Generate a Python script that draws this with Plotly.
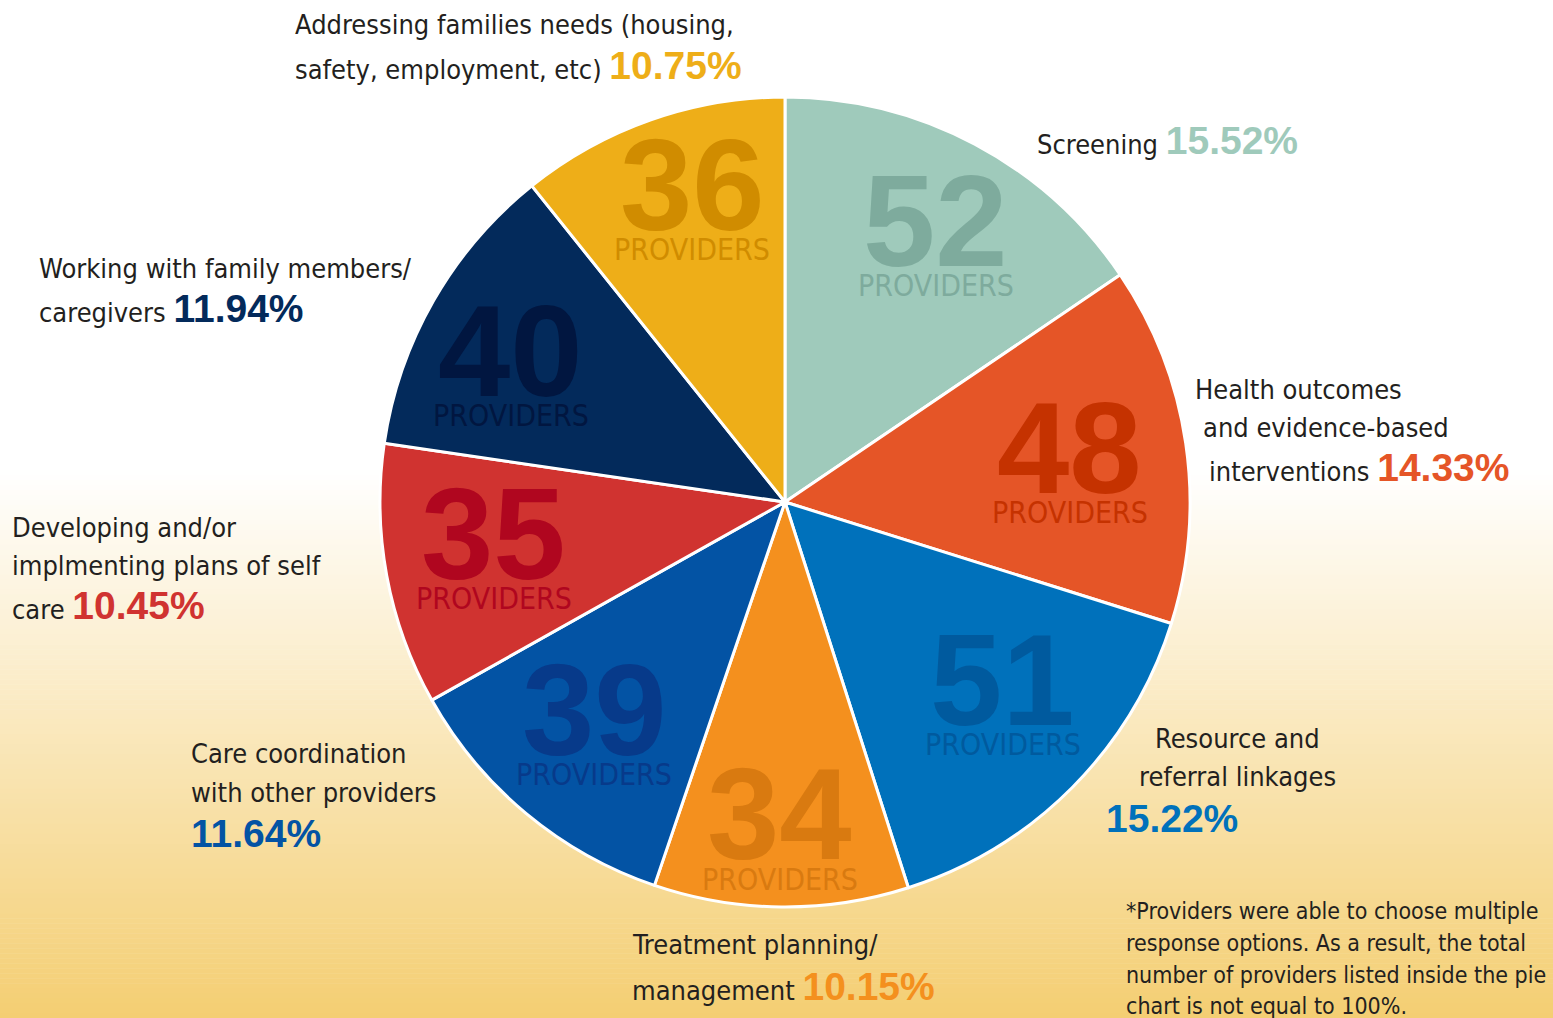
import math
import plotly.graph_objects as go

# ---------------- data ----------------
categories = [
    "Screening",
    "Health outcomes and evidence-based interventions",
    "Resource and referral linkages",
    "Treatment planning/management",
    "Care coordination with other providers",
    "Developing and/or implmenting plans of self care",
    "Working with family members/caregivers",
    "Addressing families needs (housing, safety, employment, etc)",
]
providers = [52, 48, 51, 34, 39, 35, 40, 36]
percent_labels = ["15.52%", "14.33%", "15.22%", "10.15%", "11.64%", "10.45%", "11.94%", "10.75%"]
label_lines = [
    ["Screening"],
    ["Health outcomes", "and evidence-based", "interventions"],
    ["Resource and", "referral linkages", ""],
    ["Treatment planning/", "management"],
    ["Care coordination", "with other providers", ""],
    ["Developing and/or", "implmenting plans of self", "care"],
    ["Working with family members/", "caregivers"],
    ["Addressing families needs (housing,", "safety, employment, etc)"],
]
footnote_lines = [
    "*Providers were able to choose multiple",
    "response options. As a result, the total",
    "number of providers listed inside the pie",
    "chart is not equal to 100%.",
]

# ---------------- styles ----------------
W, H = 1553, 1018
slice_colors = ["#9fcabb", "#e55527", "#0071bb", "#f4901e", "#0353a4", "#d03330", "#032a5b", "#eeae18"]
number_colors = ["#7eab9d", "#c53200", "#005a9e", "#d97a10", "#073a8a", "#b0061f", "#011640", "#d08c00"]
pct_colors = ["#9fcabb", "#e55527", "#0071bb", "#f4901e", "#0353a4", "#d03330", "#032a5b", "#eeae18"]
TEXT = "#231f20"
NARROW = "Liberation Sans Narrow, DejaVu Sans Condensed, Arial Narrow, sans-serif"
BOLD = "Liberation Sans, Arial, sans-serif"
LABEL_SIZE = 27
PCT_SIZE = 39

CX, CY, R = 785, 502, 405  # pie centre / radius in pixels

# label line placements (pixel x, pixel y-centre, anchor) per slice
line_pos = [
    [(1035, 141, "left")],
    [(1193, 389, "left"), (1201, 427, "left"), (1207, 468, "left")],
    [(1237, 738, "center"), (1237, 776, "center"), (1104, 818, "left")],
    [(630, 944, "left"), (630, 986, "left")],
    [(189, 753, "left"), (189, 792, "left"), (189, 833, "left")],
    [(10, 527, "left"), (10, 565, "left"), (10, 605, "left")],
    [(37, 268, "left"), (37, 309, "left")],
    [(293, 24, "left"), (293, 65, "left")],
]
footnote_pos = [(1124, 911), (1124, 943), (1124, 975), (1124, 1006)]
radial_factor = [0.723, 0.706, 0.743, 0.845, 0.753, 0.735, 0.74, 0.745]
angle_nudge = [3.0, 3.5, -1.2, 0.3, -1.0, -1.5, -6.0, 1.4]  # degrees


def px(x):
    return x / W


def py(y):
    return 1 - y / H


fig = go.Figure()
fig.add_trace(go.Pie(
    labels=categories,
    values=providers,
    sort=False,
    direction="clockwise",
    rotation=0,
    marker=dict(colors=slice_colors, line=dict(color="white", width=3)),
    textinfo="none",
    hoverinfo="label+value",
    showlegend=False,
    domain=dict(x=[px(CX - R), px(CX + R)], y=[py(CY + R), py(CY - R)]),
))

annotations = []
# numbers inside slices, placed along each slice's bisector
total = sum(providers)
cum = 0
for i, v in enumerate(providers):
    mid = (cum + v / 2) / total * 2 * math.pi + math.radians(angle_nudge[i])
    cum += v
    r = R * radial_factor[i]
    ax = CX + r * math.sin(mid)
    ay = CY - r * math.cos(mid)
    annotations.append(dict(
        x=px(ax), y=py(ay - 30), xref="paper", yref="paper", showarrow=False,
        xanchor="center", yanchor="middle",
        text=f"<b>{v}</b>", font=dict(family=BOLD, size=130, color=number_colors[i]),
    ))
    annotations.append(dict(
        x=px(ax), y=py(ay + 35), xref="paper", yref="paper", showarrow=False,
        xanchor="center", yanchor="middle",
        text="PROVIDERS", font=dict(family=NARROW, size=30, color=number_colors[i]),
    ))

# outside category labels
for i, lines in enumerate(label_lines):
    for j, line in enumerate(lines):
        x, y, anchor = line_pos[i][j]
        txt = line
        if j == len(lines) - 1:
            pct = (f'<span style="font-family:Liberation Sans, Arial, sans-serif;font-size:{PCT_SIZE}px;'
                   f'color:{pct_colors[i]}"><b>{percent_labels[i]}</b></span>')
            txt = (line + " " + pct) if line else pct
        annotations.append(dict(
            x=px(x), y=py(y), xref="paper", yref="paper", showarrow=False,
            xanchor=anchor, yanchor="middle", align=anchor,
            text=txt, font=dict(family=NARROW, size=LABEL_SIZE, color=TEXT),
        ))

for (x, y), line in zip(footnote_pos, footnote_lines):
    annotations.append(dict(
        x=px(x), y=py(y), xref="paper", yref="paper", showarrow=False,
        xanchor="left", yanchor="middle", align="left",
        text=line, font=dict(family=NARROW, size=23, color=TEXT),
    ))

# background gradient (white -> warm yellow toward bottom)
shapes = []
g_top, g_bot = 470, H
steps = 110
c0 = (255, 255, 255)
c1 = (244, 206, 114)
for k in range(steps):
    y0 = g_top + (g_bot - g_top) * k / steps
    y1 = g_top + (g_bot - g_top) * (k + 1) / steps
    t = (k + 0.5) / steps
    col = tuple(round(c0[n] + (c1[n] - c0[n]) * t) for n in range(3))
    shapes.append(dict(
        type="rect", xref="paper", yref="paper", x0=0, x1=1,
        y0=py(y1) - 0.0005, y1=py(y0), line=dict(width=0),
        fillcolor=f"rgb{col}", layer="below",
    ))

fig.update_layout(
    width=W, height=H,
    margin=dict(l=0, r=0, t=0, b=0),
    paper_bgcolor="white", plot_bgcolor="white",
    annotations=annotations, shapes=shapes,
)

fig.write_html(
    "out.html",
    config={"displayModeBar": False},
    post_script="document.body.style.margin='0';document.body.style.overflow='hidden';",
)
